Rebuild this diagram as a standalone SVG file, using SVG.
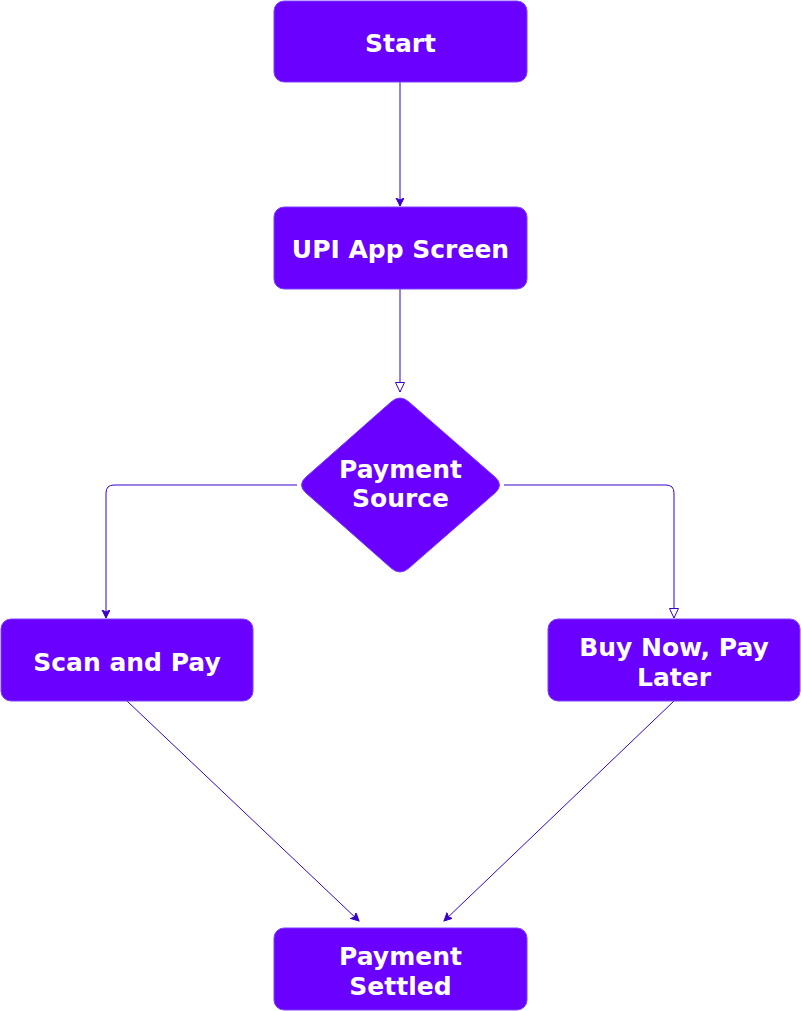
<svg xmlns="http://www.w3.org/2000/svg" width="801" height="1011" viewBox="0 0 801 1011">
<style>
.node{fill:#6a00ff;stroke:#7a40ff;stroke-width:1}
.lbl{font-family:"DejaVu Sans",Verdana,sans-serif;font-weight:bold;font-size:25px;fill:#ffffff;text-anchor:middle}
.edge{fill:none;stroke:#3700cc;stroke-width:1}
</style>
<defs>
<marker id="filled" markerWidth="10" markerHeight="10" refX="8" refY="4" orient="auto" markerUnits="userSpaceOnUse">
<path d="M0,0 L8,4 L0,8 L2,4 Z" fill="#3700cc" stroke="#3700cc" stroke-width="1"/>
</marker>
<marker id="open" markerWidth="12" markerHeight="12" refX="10" refY="5" orient="auto" markerUnits="userSpaceOnUse">
<path d="M0.5,0.5 L10,5 L0.5,9.5 Z" fill="#ffffff" stroke="#3700cc" stroke-width="1"/>
</marker>
</defs>
<g id="connectors">
<path class="edge" d="M400,82 L400,206" marker-end="url(#filled)"/>
<path class="edge" d="M400,289 L400,392" marker-end="url(#open)"/>
<path class="edge" d="M297,485 L114,485 Q106,485 106,493 L106,618" marker-end="url(#filled)"/>
<path class="edge" d="M504,485 L666,485 Q674,485 674,493 L674,618" marker-end="url(#open)"/>
<path class="edge" d="M127,701 L359,921" marker-end="url(#filled)"/>
<path class="edge" d="M674,701 L444,921" marker-end="url(#filled)"/>
</g>
<g id="start">
<rect class="node" x="274" y="1" width="253" height="81" rx="10"/>
<text class="lbl" x="400.5" y="52">Start</text>
</g>
<g id="upi">
<rect class="node" x="274" y="207" width="253" height="82" rx="10"/>
<text class="lbl" x="400.5" y="258">UPI App Screen</text>
</g>
<g id="source">
<path class="node" d="M391,402 Q400,394 409,402 L495,477 Q504,485 495,493 L409,568 Q400,576 391,568 L306,493 Q297,485 306,477 Z"/>
<text class="lbl" x="400.5" y="478">Payment</text>
<text class="lbl" x="400.5" y="507">Source</text>
</g>
<g id="scan">
<rect class="node" x="1" y="619" width="252" height="82" rx="10"/>
<text class="lbl" x="127" y="671">Scan and Pay</text>
</g>
<g id="bnpl">
<rect class="node" x="548" y="619" width="252" height="82" rx="10"/>
<text class="lbl" x="674" y="656">Buy Now, Pay</text>
<text class="lbl" x="674" y="686">Later</text>
</g>
<g id="settled">
<rect class="node" x="274" y="928" width="253" height="82" rx="10"/>
<text class="lbl" x="400.5" y="965">Payment</text>
<text class="lbl" x="400.5" y="995">Settled</text>
</g>
</svg>
